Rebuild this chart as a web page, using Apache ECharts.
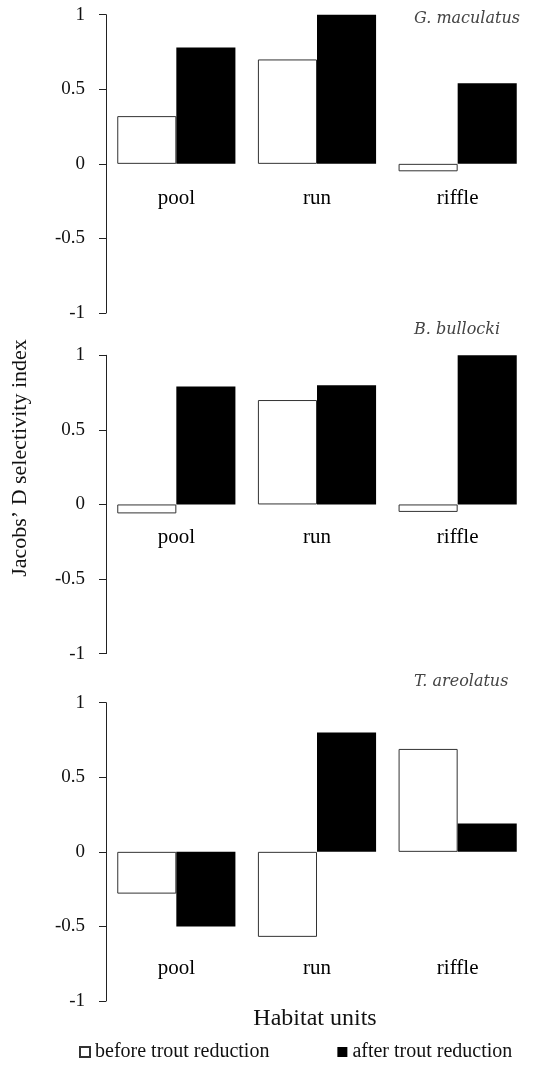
<!DOCTYPE html>
<html>
<head>
<meta charset="utf-8">
<script src="https://cdn.jsdelivr.net/npm/echarts@6/dist/echarts.min.js"></script>
<style>
html,body{margin:0;padding:0;background:#fff;}
#chart{width:534px;height:1067px;}
</style>
</head>
<body>
<div id="chart"></div>
<script>
// ---- data ----
var categories = ['pool', 'run', 'riffle'];
var speciesNames = ['G. maculatus', 'B. bullocki', 'T. areolatus'];
var seriesNames = ['before trout reduction', 'after trout reduction'];
var gmBefore = [0.32, 0.70, -0.05];
var gmAfter  = [0.78, 1.00, 0.54];
var bbBefore = [-0.06, 0.70, -0.05];
var bbAfter  = [0.79, 0.80, 1.00];
var taBefore = [-0.28, -0.57, 0.69];
var taAfter  = [-0.50, 0.80, 0.19];
var yMin = -1, yMax = 1, yStep = 0.5;
var yTitle = 'Jacobs\u2019 D selectivity index';
var xTitle = 'Habitat units';

// ---- layout ----
var serif = '"Liberation Serif", "Times New Roman", serif';
var panelHeight = 298.3;
var panels = [
  {top: 14.7, before: gmBefore, after: gmAfter, labelMargin: 24, spY: 20},
  {top: 355.3, before: bbBefore, after: bbAfter, labelMargin: 23, spY: 331},
  {top: 702.7, before: taBefore, after: taAfter, labelMargin: 106, spY: 683}
];

var grids = [], xAxes = [], yAxes = [], series = [], graphics = [];
panels.forEach(function (p, i) {
  grids.push({left: 106, right: 6, top: p.top, height: panelHeight, outerBoundsMode: 'none', containLabel: false});
  xAxes.push({
    type: 'category', gridIndex: i, data: categories, position: 'bottom',
    // place the (hidden) axis on the zero line: half the panel height above the bottom
    offset: -panelHeight / 2,
    axisLine: {show: false, onZero: false},
    axisTick: {show: false},
    axisLabel: {margin: p.labelMargin, fontSize: 21, fontFamily: serif, color: '#000'}
  });
  yAxes.push({
    type: 'value', gridIndex: i, min: yMin, max: yMax, interval: yStep,
    axisLine: {show: true, lineStyle: {color: '#222', width: 1}},
    axisTick: {show: true, length: 7, lineStyle: {color: '#222', width: 1}},
    axisLabel: {margin: 21, fontSize: 19, fontFamily: serif, color: '#111'},
    splitLine: {show: false}
  });
  series.push({
    name: seriesNames[0], type: 'bar', xAxisIndex: i, yAxisIndex: i,
    data: p.before, barGap: '0%', barCategoryGap: '16%',
    itemStyle: {color: '#fff', borderColor: '#333', borderWidth: 1},
    emphasis: {disabled: true}
  });
  series.push({
    name: seriesNames[1], type: 'bar', xAxisIndex: i, yAxisIndex: i,
    data: p.after, barGap: '0%', barCategoryGap: '16%',
    itemStyle: {color: '#000'},
    emphasis: {disabled: true}
  });
  graphics.push({
    type: 'text', left: 414, top: p.spY - 9,
    style: {text: speciesNames[i], fontSize: 16, fontStyle: 'italic',
      fontFamily: '"DejaVu Serif", serif', fill: '#444'}
  });
});

graphics.push({
  type: 'text', x: 20, y: 458, rotation: Math.PI / 2,
  style: {text: yTitle, fontSize: 22, fontFamily: serif, fill: '#111',
    textAlign: 'center', textVerticalAlign: 'middle'}
});
graphics.push({
  type: 'text', x: 315, y: 1019,
  style: {text: xTitle, fontSize: 24, fontFamily: serif, fill: '#111',
    textAlign: 'center', textVerticalAlign: 'middle'}
});

var chart = echarts.init(document.getElementById('chart'), null, {renderer: 'canvas'});
chart.setOption({
  backgroundColor: '#fff',
  animation: false,
  grid: grids,
  xAxis: xAxes,
  yAxis: yAxes,
  legend: {
    data: seriesNames, left: 74, top: 1037, icon: 'rect',
    itemWidth: 10, itemHeight: 10, itemGap: 68, selectedMode: false,
    textStyle: {fontSize: 20, fontFamily: serif, color: '#111'}
  },
  graphic: graphics,
  series: series
});
</script>
</body>
</html>
